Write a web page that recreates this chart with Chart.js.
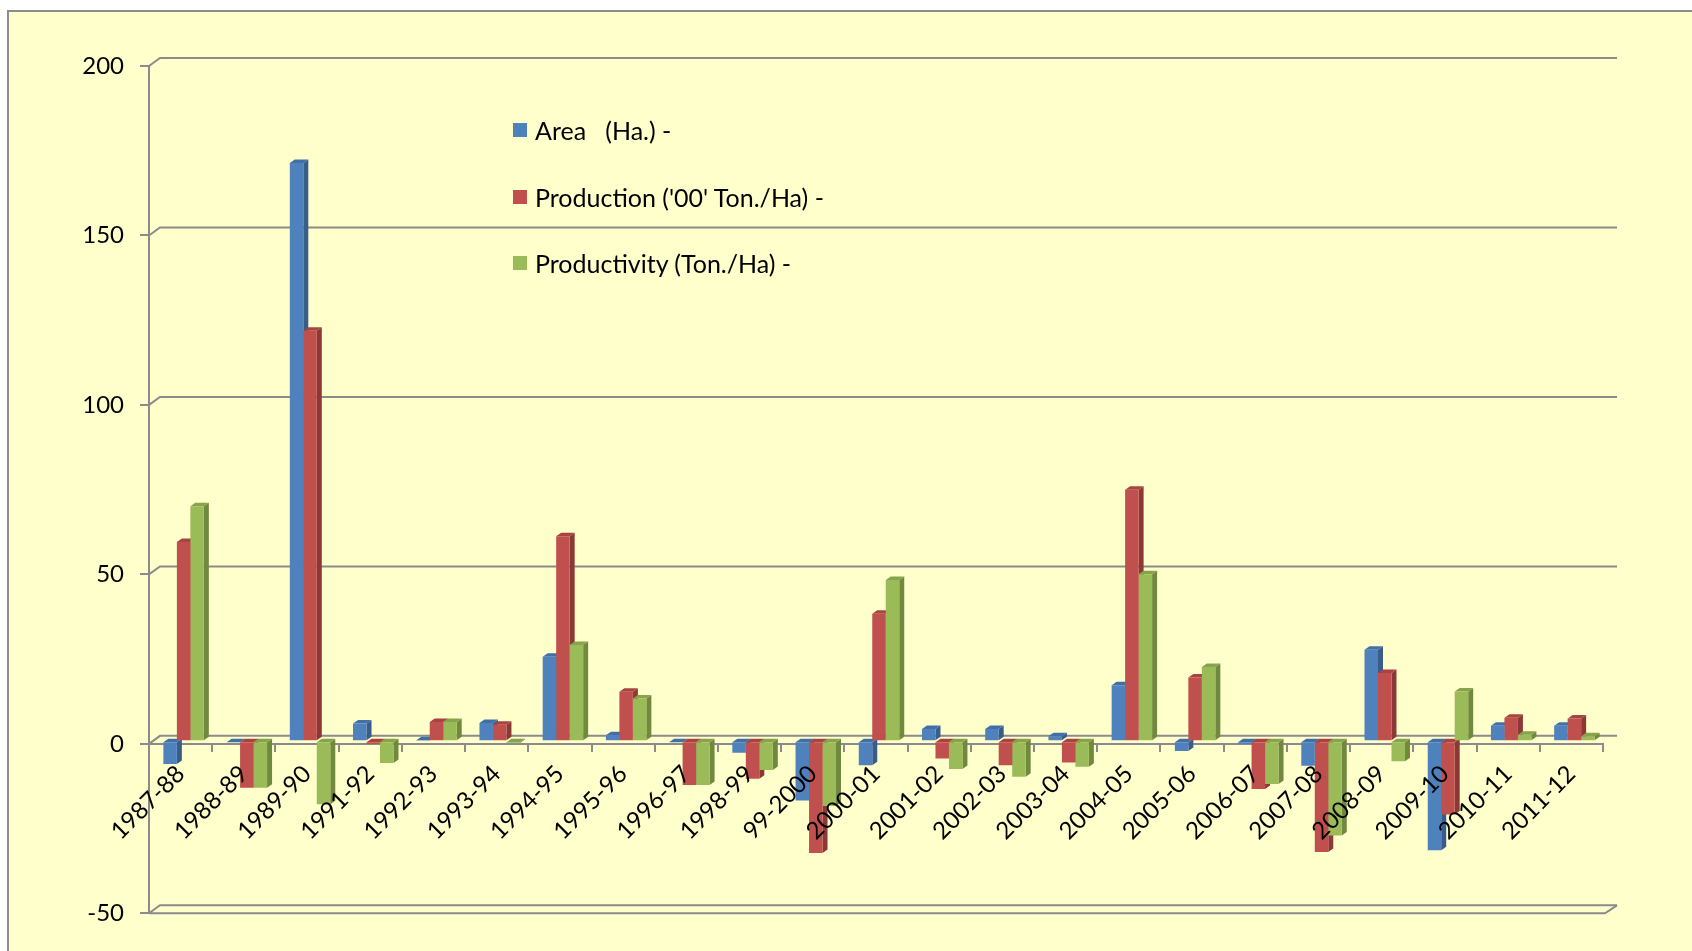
<!DOCTYPE html>
<html>
<head>
<meta charset="utf-8">
<title>Area, Production and Productivity</title>
<script src="https://cdn.jsdelivr.net/npm/chart.js@4.4.1/dist/chart.umd.min.js"></script>
<style>
  html, body { margin: 0; padding: 0; background: #fff; overflow: hidden; }
  #frame {
    position: absolute; left: 7px; top: 10px; width: 1720px; height: 980px;
    background: #ffffcc; border-left: 2px solid #8c8c8c; border-top: 2px solid #8c8c8c;
  }
  #chart { position: absolute; left: 0; top: 0; }
  #legend {
    position: absolute; left: 513px; top: 97px;
    font-family: Lato, "Open Sans", sans-serif; font-size: 25px; color: #000;
  }
  .item { height: 66.4px; display: flex; align-items: center; white-space: pre; }
  .swatch { width: 14px; height: 14px; margin-right: 8px; }
</style>
</head>
<body>
<div id="frame"></div>
<canvas id="chart" width="1692" height="951"></canvas>
<div id="legend"></div>

<script>
// ===== DỮ LIỆU =====
const years = [
  "1987-88", "1988-89", "1989-90", "1991-92", "1992-93", "1993-94", "1994-95",
  "1995-96", "1996-97", "1998-99", "99-2000", "2000-01", "2001-02", "2002-03",
  "2003-04", "2004-05", "2005-06", "2006-07", "2007-08", "2008-09", "2009-10",
  "2010-11", "2011-12"
];
const areaHa = [
  -6.7, -0.3, 170.6, 5.2, 0.2, 5.4, 24.9, 1.8, -0.3, -3.4, -17.5, -7.1,
  3.6, 3.6, 1.5, 16.5, -2.9, -0.8, -7.2, 27, -32.2, 4.6, 4.6
];
const production = [
  58.8, -13.7, 121.1, -0.8, 5.7, 4.9, 60.5, 14.6, -12.9, -11.1, -33, 37.6,
  -5.1, -7.1, -6.3, 74.2, 18.8, -14.1, -32.7, 20.1, -21.6, 6.9, 6.7
];
const productivity = [
  69.3, -13.7, -18.6, -6.4, 5.7, -0.5, 28.4, 12.6, -12.9, -8.5, -19.1, 47.6,
  -8.2, -10.5, -7.5, 49.3, 21.9, -12.6, -27.8, -5.9, 14.7, 1.9, 1.5
];
const yTicks = [-50, 0, 50, 100, 150, 200];

const seriesNames = ["Area   (Ha.) -", "Production ('00' Ton./Ha) -", "Productivity (Ton./Ha) -"];
const frontColors = ["#4F81BD", "#C0504D", "#9BBB59"];
const sideColors = ["#385D8A", "#8C3836", "#71893F"];
const topColors = ["#4170A8", "#A84341", "#87A44C"];

const GRID = "#8b8b8b";
const FONT = { family: "Lato, 'Open Sans', sans-serif", size: 24 };

// độ lệch của tường sau và của khối cột 3D
const WALL_DX = 11, WALL_DY = -8;
const BAR_DX = 5, BAR_DY = -3.5;
const SHIFT_X = 3, SHIFT_Y = -2.6;

// ===== LƯỚI TƯỜNG SAU + SÀN =====
const wallPlugin = {
  id: "wall",
  beforeDatasetsDraw(chart) {
    const ctx = chart.ctx;
    const area = chart.chartArea;
    const y = chart.scales.y;
    ctx.save();
    ctx.strokeStyle = GRID;
    ctx.lineWidth = 2;
    yTicks.forEach((v) => {
      const py = y.getPixelForValue(v);
      ctx.beginPath();
      ctx.moveTo(area.left, py);
      ctx.lineTo(area.left + WALL_DX, py + WALL_DY);
      ctx.lineTo(area.right + WALL_DX + 3, py + WALL_DY);
      ctx.stroke();
    });
    // cạnh trước của sàn
    const pyFloor = y.getPixelForValue(-50);
    ctx.beginPath();
    ctx.moveTo(area.left, pyFloor);
    ctx.lineTo(area.right + 2, pyFloor);
    ctx.lineTo(area.right + WALL_DX + 3, pyFloor + WALL_DY);
    ctx.stroke();
    ctx.restore();
  },
};

// ===== MẶT BÊN + MẶT TRÊN CỦA CỘT =====
const depthPlugin = {
  id: "depth3d",
  beforeDatasetsDraw(chart) {
    const ctx = chart.ctx;
    ctx.save();
    ctx.translate(SHIFT_X, SHIFT_Y);
    chart.data.datasets.forEach((ds, i) => {
      const meta = chart.getDatasetMeta(i);
      meta.data.forEach((bar) => {
        const p = bar.getProps(["x", "y", "base", "width"], true);
        const l = p.x - p.width / 2;
        const r = p.x + p.width / 2;
        const top = Math.min(p.y, p.base);
        const bottom = Math.max(p.y, p.base);

        ctx.fillStyle = sideColors[i];
        ctx.beginPath();
        ctx.moveTo(r, top);
        ctx.lineTo(r + BAR_DX, top + BAR_DY);
        ctx.lineTo(r + BAR_DX, bottom + BAR_DY);
        ctx.lineTo(r, bottom);
        ctx.closePath();
        ctx.fill();

        ctx.fillStyle = topColors[i];
        ctx.beginPath();
        ctx.moveTo(l, top);
        ctx.lineTo(l + BAR_DX, top + BAR_DY);
        ctx.lineTo(r + BAR_DX, top + BAR_DY);
        ctx.lineTo(r, top);
        ctx.closePath();
        ctx.fill();
      });
    });
  },
  afterDatasetsDraw(chart) {
    chart.ctx.restore();
  },
};

const ctx = document.getElementById("chart").getContext("2d");
const seriesData = [areaHa, production, productivity];

const myChart = new Chart(ctx, {
  type: "bar",
  data: {
    labels: years,
    datasets: seriesData.map((values, i) => ({
      label: seriesNames[i],
      data: values,
      backgroundColor: frontColors[i],
      borderWidth: 0,
      categoryPercentage: 0.64,
      barPercentage: 1.0,
    })),
  },
  options: {
    responsive: false,
    animation: false,
    devicePixelRatio: 1,
    layout: { padding: { top: 66, bottom: 37.7, left: 0, right: 89 } },
    plugins: { legend: { display: false }, tooltip: { enabled: false } },
    scales: {
      x: {
        position: { y: 0 },
        offset: true,
        afterFit: (scale) => { scale.height = 0; },
        grid: {
          offset: true,
          drawOnChartArea: false,
          tickLength: 7,
          color: GRID,
          lineWidth: 2,
        },
        border: { display: true, color: GRID, width: 2 },
        ticks: {
          z: 1, // nhãn năm nằm trên các cột
          autoSkip: false,
          minRotation: 45,
          maxRotation: 45,
          padding: 9,
          color: "#000",
          font: FONT,
        },
      },
      y: {
        min: -50,
        max: 200,
        afterFit: (scale) => { scale.width = 149; },
        afterBuildTicks: (scale) => {
          scale.ticks = yTicks.map((v) => ({ value: v }));
        },
        grid: {
          drawOnChartArea: false,
          tickLength: 9,
          color: GRID,
          lineWidth: 2,
        },
        border: { display: true, color: GRID, width: 2 },
        ticks: { padding: 16, color: "#000", font: FONT },
      },
    },
  },
  plugins: [wallPlugin, depthPlugin],
});

// ===== CHÚ THÍCH (HTML) =====
const legendBox = document.getElementById("legend");
myChart.data.datasets.forEach((ds) => {
  const row = document.createElement("div");
  row.className = "item";
  row.innerHTML = `<span class="swatch" style="background:${ds.backgroundColor}"></span><span>${ds.label}</span>`;
  legendBox.appendChild(row);
});
</script>
</body>
</html>
